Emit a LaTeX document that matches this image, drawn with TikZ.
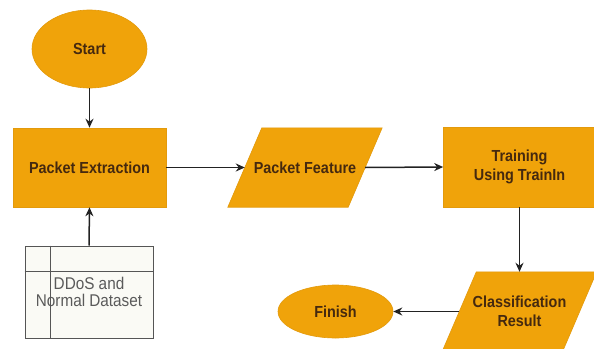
\documentclass[tikz,border=0pt]{standalone}
\usepackage{fontspec}
\setmainfont[FakeStretch=0.9]{Liberation Sans}
\usetikzlibrary{shapes.geometric,arrows.meta}
\definecolor{orfill}{HTML}{F0A30A}
\definecolor{orline}{HTML}{E39A0C}
\definecolor{txtbrown}{HTML}{45290F}
\definecolor{lineblk}{HTML}{222222}
\definecolor{dsfill}{HTML}{FAFAF5}
\definecolor{dsline}{HTML}{555555}
\definecolor{dstext}{HTML}{5A5A5A}
\tikzset{
  every node/.style={font=\fontsize{16}{18.5}\selectfont\bfseries, text=txtbrown, align=center, inner sep=0pt},
  term/.style={ellipse, fill=orfill, draw=orline, line width=0.6pt},
  procbox/.style={rectangle, fill=orfill, draw=orline, line width=0.6pt},
  iobox/.style={rectangle, minimum width=120pt, minimum height=79pt},
  conn/.style={draw=lineblk, line width=1.5pt, -{Stealth[length=9pt,width=8pt]}},
  iofill/.style={fill=orfill, draw=orline, line width=0.6pt}
}
\begin{document}
\begin{tikzpicture}[x=1pt,y=-1pt]
\useasboundingbox[fill=white] (0,0) rectangle (594,348);
% nodes
\node[term, minimum width=115pt, minimum height=78pt] (start) at (89.5,49) {Start};
\node[procbox, minimum width=153pt, minimum height=79pt] (pe) at (89.5,167.5) {Packet Extraction};
\node[iobox] (pf) at (305,167.5) {};
\fill[iofill] ([xshift=-17pt]pf.south west) -- ([xshift=17pt]pf.north west) -- ([xshift=17pt]pf.north east) -- ([xshift=-17pt]pf.south east) -- cycle;
\node at (pf.center) {Packet Feature};
\node[procbox, minimum width=152pt, minimum height=80pt] (tr) at (519.5,167) {Training\\Using TrainIn};
\node[iobox] (cr) at (519.5,311.5) {};
\fill[iofill] ([xshift=-17pt]cr.south west) -- ([xshift=17pt]cr.north west) -- ([xshift=17pt]cr.north east) -- ([xshift=-17pt]cr.south east) -- cycle;
\node at (cr.center) {Classification\\Result};
\node[term, minimum width=115pt, minimum height=53pt] (fin) at (335.5,311.5) {Finish};
\node[rectangle, fill=dsfill, draw=dsline, line width=1pt, minimum width=128pt, minimum height=92pt, font=\fontsize{17}{17}\selectfont, text=dstext] (ds) at (89,292) {DDoS and\\Normal Dataset};
\draw[dsline, line width=1pt] ([xshift=26pt]ds.north west) -- ([xshift=26pt]ds.south west);
\draw[dsline, line width=1pt] ([yshift=-26pt]ds.north west) -- ([yshift=-26pt]ds.north east);
% connectors
\draw[conn] (start.south) -- (pe.north);
\draw[conn] (ds.north) -- (pe.south);
\draw[conn] (pe.east) -- (pf.west);
\draw[conn] (pf.east) -- (tr.west);
\draw[conn] (tr.south) -- (cr.north);
\draw[conn] (cr.west) -- (fin.east);
\end{tikzpicture}
\end{document}
